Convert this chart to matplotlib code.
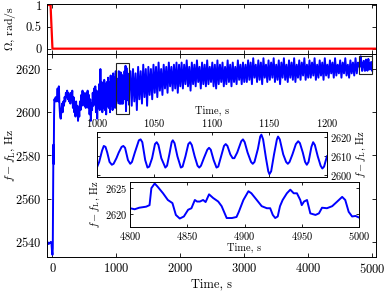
import numpy as np
import matplotlib
matplotlib.use("Agg")
import matplotlib.pyplot as plt
from matplotlib.patches import Rectangle

plt.rcParams['font.family'] = 'serif'
plt.rcParams['font.serif'] = ['cmr10']
plt.rcParams['mathtext.fontset'] = 'cm'
plt.rcParams['axes.formatter.use_mathtext'] = True
plt.rcParams['font.size'] = 9

# rotation rate (top panel)
omega_t = [-100, -30, 0, 5100]
omega_v = [1.0, 1.0, 0.0, 0.0]

# start-up transient
start_t = [-100, -80, -60, -40, -25, -15, -8, 0, 5, 10, 15, 20, 25, 30, 40, 50, 60, 70]
start_f = [2539.5, 2540, 2539, 2539.5, 2540, 2539, 2536, 2534, 2537, 2560, 2585, 2576,
           2598, 2606, 2605, 2607, 2605, 2606]

# 80 .. 990 s, every 10 s
early_f = [2611, 2605, 2612, 2603, 2598, 2597, 2601, 2604, 2600, 2605,
           2603, 2607, 2605, 2609, 2607, 2610, 2606, 2609, 2605, 2608,
           2604, 2609, 2606, 2610, 2602, 2607, 2600, 2604, 2598, 2605,
           2599, 2603, 2596, 2602, 2598, 2605, 2601, 2608, 2603, 2610,
           2604, 2609, 2603, 2608, 2602, 2609, 2604, 2610, 2602, 2608,
           2599, 2606, 2596, 2604, 2601, 2609, 2603, 2611, 2604, 2612,
           2600, 2610, 2597, 2609, 2602, 2613, 2601, 2620, 2603, 2614,
           2600, 2613, 2602, 2615, 2601, 2613, 2599, 2614, 2603, 2616,
           2602, 2614, 2600, 2617, 2603, 2615, 2601, 2618, 2604, 2616,
           2602, 2619]

# zoom 1: 1000 .. 1200 s
ins1_t = [1000, 1002, 1004.5, 1006, 1007.5, 1009, 1011, 1013, 1014.5, 1017,
          1019, 1021.5, 1023, 1024.5, 1027, 1029, 1030.5, 1033, 1036.5, 1038,
          1039.5, 1042, 1044, 1045.5, 1048, 1050.5, 1052, 1053.5, 1056, 1059.5,
          1061, 1063, 1065, 1066, 1067.5, 1070, 1073, 1074.5, 1077, 1079.5,
          1081, 1082.5, 1085, 1087.5, 1089, 1090.5, 1093, 1096, 1097.5, 1099,
          1101.5, 1104, 1105.5, 1108, 1110.5, 1112, 1113.5, 1116, 1118, 1119.5,
          1122, 1125.5, 1127, 1128.5, 1131, 1134, 1135.5, 1137, 1140, 1142,
          1143, 1144.5, 1147, 1149, 1150, 1151.5, 1154, 1156.5, 1157.5, 1159,
          1162, 1164.5, 1166, 1167.5, 1170, 1173, 1175, 1176.5, 1179, 1181,
          1182.5, 1184, 1186.5, 1188, 1189.5, 1192, 1194.5, 1196, 1197.5, 1200]
ins1_f = [2604, 2607, 2613, 2615.5, 2615, 2612, 2607, 2605.5, 2606, 2609,
          2612, 2615, 2615.5, 2614.5, 2608, 2606, 2607, 2612, 2618.5, 2619,
          2617.5, 2608, 2604, 2604.5, 2609, 2616.5, 2617.5, 2616, 2609, 2604,
          2605, 2611, 2617.5, 2618.5, 2617, 2610, 2604, 2604.5, 2610, 2616.5,
          2617.5, 2616, 2610, 2605, 2604, 2605, 2609, 2613.5, 2614.5, 2613.5,
          2608, 2604, 2604.5, 2610, 2615.5, 2616.5, 2615.5, 2611, 2609, 2609,
          2612, 2618, 2619, 2617.5, 2612, 2607, 2606, 2607, 2614, 2620.5,
          2621.5, 2619, 2609, 2602, 2600.5, 2602, 2611, 2619, 2620.5, 2619,
          2611, 2607, 2606, 2607, 2611, 2616.5, 2618, 2617, 2612, 2607,
          2605.5, 2607, 2615, 2617.5, 2616, 2610, 2605, 2603.5, 2604.5, 2610]

# 1220 .. 4780 s, every 20 s
late_f = [2619, 2603, 2620, 2605, 2618, 2601, 2621, 2606, 2619, 2604,
          2622, 2607, 2620, 2603, 2621,
          2608, 2620, 2606, 2622, 2609, 2621, 2607, 2623, 2610, 2620,
          2608, 2622, 2611, 2621, 2609, 2623, 2612, 2621, 2610, 2622,
          2611, 2623, 2609, 2622, 2612,
          2623, 2611, 2622, 2613, 2624, 2612, 2621, 2610, 2623, 2613,
          2622, 2612, 2624, 2614, 2621, 2611, 2623, 2613, 2622, 2612,
          2624, 2613, 2621, 2614, 2623, 2612, 2622, 2611, 2624, 2613,
          2622, 2614, 2623, 2612, 2621, 2613, 2624, 2614, 2622, 2612,
          2623, 2614, 2621, 2613, 2624, 2615, 2622, 2613, 2623, 2614,
          2622, 2614, 2624, 2615, 2623, 2613, 2625, 2616, 2622, 2614,
          2624, 2615, 2623, 2613, 2625, 2616, 2622, 2614, 2624, 2615,
          2623, 2616, 2625, 2614, 2622, 2615, 2624, 2613, 2623, 2616,
          2625, 2615, 2622, 2614, 2624, 2616, 2623, 2615, 2625, 2614,
          2622, 2616, 2624, 2615, 2623, 2617, 2625, 2615, 2622, 2616,
          2624, 2616, 2623, 2617, 2625, 2615, 2622, 2616, 2624, 2617,
          2623, 2615, 2625, 2617, 2622, 2616, 2624, 2618, 2623, 2616,
          2625, 2617, 2622, 2618, 2624, 2616, 2623, 2618, 2625, 2617,
          2622, 2616, 2624, 2618, 2623, 2617, 2625, 2618, 2623]

# zoom 2: 4800 .. 5000 s
ins2_t = [4800, 4804, 4808, 4814, 4817, 4818.6, 4821.5, 4824, 4828.8, 4833,
          4837, 4840, 4843.4, 4847, 4850.7, 4853.6, 4856.6, 4858.5, 4861, 4863.8,
          4866, 4869, 4872.5, 4877, 4880, 4884.4, 4889, 4893, 4895, 4899,
          4903.4, 4906, 4910.7, 4915, 4919.5, 4922.4, 4924.7, 4926.8, 4929, 4931,
          4933.3, 4937, 4940, 4943, 4945.8, 4948.7, 4950, 4952, 4954.6, 4957.5,
          4962, 4965, 4967.7, 4972, 4976.6, 4981, 4985.3, 4988, 4991, 4994,
          4997, 5000]
ins2_f = [2621.1, 2620.9, 2621.2, 2621.4, 2621.7, 2625.0, 2625.9, 2625.3, 2624.0, 2622.7,
          2622.1, 2619.8, 2619.1, 2619.5, 2620.8, 2621.1, 2622.7, 2622.4, 2622.4, 2622.7,
          2622.3, 2623.8, 2623.1, 2622.4, 2621.5, 2619.2, 2619.2, 2619.4, 2620.4, 2622.7,
          2624.4, 2624.0, 2622.7, 2621.5, 2621.1, 2621.1, 2619.8, 2619.2, 2619.5, 2621.5,
          2622.7, 2624.0, 2624.7, 2624.0, 2624.0, 2622.7, 2621.7, 2622.4, 2622.7, 2620.1,
          2619.8, 2620.1, 2621.2, 2621.1, 2621.5, 2622.4, 2623.3, 2622.7, 2620.4, 2619.5,
          2619.6, 2619.3]

early_t = np.linspace(80, 990, len(early_f))
late_t = np.linspace(1220, 4780, len(late_f))
main_t = np.concatenate([start_t, early_t, ins1_t, late_t, ins2_t])
main_f = np.concatenate([start_f, early_f, ins1_f, late_f, ins2_f])

fig = plt.figure(figsize=(3.86, 2.93), dpi=100)
ax0 = fig.add_axes([0.121, 0.816, 0.853, 0.170])
ax = fig.add_axes([0.121, 0.123, 0.853, 0.693])
ins1 = fig.add_axes([0.251, 0.396, 0.596, 0.154])
ins2 = fig.add_axes([0.337, 0.226, 0.593, 0.153])

for a in (ax0, ax):
    a.tick_params(direction='in', top=True, right=True, length=3, width=0.6, labelsize=9)
for a in (ins1, ins2):
    a.tick_params(direction='in', top=True, right=True, length=2.5, width=0.6, labelsize=7.5, pad=2)
for a in (ax0, ax, ins1, ins2):
    for s in a.spines.values():
        s.set_linewidth(0.7)

ax0.plot(omega_t, omega_v, color='red', lw=1.6)
ax0.set_xlim(-90, 5060)
ax0.set_ylim(-0.12, 1.02)
ax0.set_yticks([0, 0.5, 1])
ax0.set_yticklabels(['0', '0.5', '1'])
ax0.set_xticks(range(0, 5001, 1000))
ax0.set_xticklabels([])
ax0.set_ylabel(r'$\Omega$, rad/s', fontsize=8.5)
ax0.yaxis.set_label_coords(-0.088, 0.5)

ax.plot(main_t, main_f, color='blue', lw=1.4)
ax.set_xlim(-90, 5060)
ax.set_ylim(2533, 2627)
ax.set_xticks(range(0, 5001, 1000))
ax.set_yticks(range(2540, 2621, 20))
ax.set_xlabel('Time, s', labelpad=2)
ax.set_ylabel(r'$f - f_{\rm L}$, Hz', fontsize=8.5)
ax.yaxis.set_label_coords(-0.09, 0.5)
ax.add_patch(Rectangle((1000, 2599), 200, 24, fill=False, ec='#222222', lw=0.8, zorder=5))
ax.add_patch(Rectangle((4800, 2617.5), 200, 8.7, fill=False, ec='#222222', lw=0.8, zorder=5))

ins1.plot(ins1_t, ins1_f, color='blue', lw=1.4)
ins1.set_xlim(1000, 1200)
ins1.set_ylim(2599, 2623)
ins1.set_xticks(range(1000, 1201, 50))
ins1.set_yticks([2600, 2610, 2620])
ins1.xaxis.tick_top()
ins1.xaxis.set_label_position('top')
ins1.yaxis.tick_right()
ins1.yaxis.set_label_position('right')
ins1.tick_params(direction='in', bottom=True, left=True, top=True, right=True)
ins1.set_xlabel('Time, s', fontsize=7.5, labelpad=2)
ins1.set_ylabel(r'$f - f_{\rm L}$, Hz', fontsize=7.5, labelpad=2)

ins2.plot(ins2_t, ins2_f, color='blue', lw=1.4)
ins2.set_xlim(4800, 5000)
ins2.set_ylim(2617.5, 2626.2)
ins2.set_xticks(range(4800, 5001, 50))
ins2.set_yticks([2620, 2625])
ins2.set_xlabel('Time, s', fontsize=7.5, labelpad=1)
ins2.set_ylabel(r'$f - f_{\rm L}$, Hz', fontsize=7.5, labelpad=2)

fig.savefig('out.png', dpi=100)
